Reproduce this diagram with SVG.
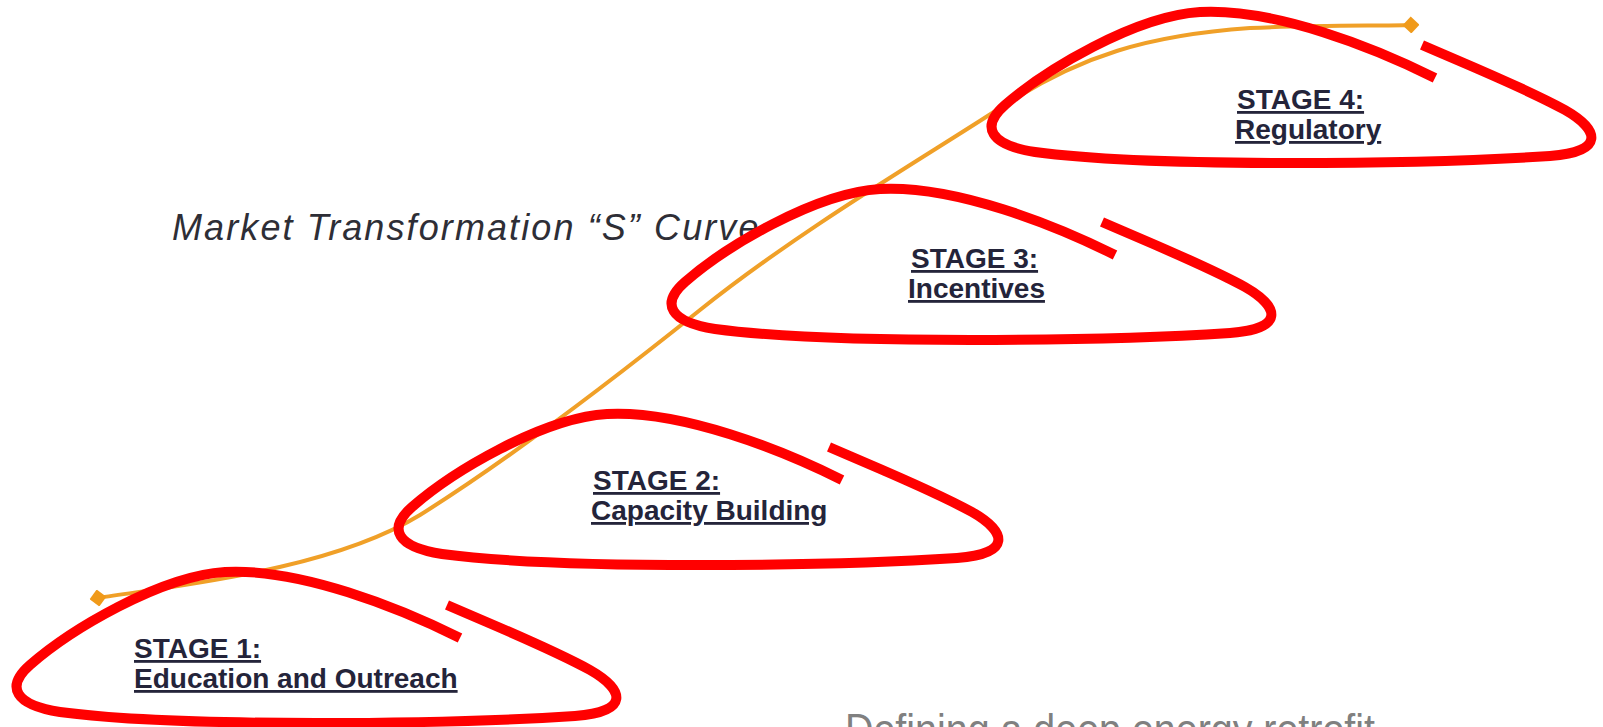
<svg xmlns="http://www.w3.org/2000/svg" xmlns:xlink="http://www.w3.org/1999/xlink" width="1603" height="727" viewBox="0 0 1603 727">
  <style>
    .title { font-family: "Liberation Sans", Arial, sans-serif; font-style: italic; font-size: 36px; letter-spacing: 2.1px; fill: #2e2e36; }
    .stage { font-family: "Liberation Sans", Arial, sans-serif; font-weight: bold; font-size: 28px; fill: #24243a; text-decoration: underline; }
    .loop { fill: none; stroke: #ff0000; stroke-width: 10; stroke-linecap: butt; stroke-linejoin: round; }
    .scurve { fill: none; stroke: #f0a028; stroke-width: 4; stroke-linecap: round; }
    .footer { font-family: "Liberation Sans", Arial, sans-serif; font-size: 44px; fill: #808080; }
  </style>
  <defs>
    <marker id="diamond" viewBox="0 0 12 12" refX="6" refY="6" markerWidth="17" markerHeight="17" markerUnits="userSpaceOnUse" orient="auto">
      <path d="M6,0 L12,6 L6,12 L0,6 Z" fill="#f09a1a"/>
    </marker>
    <path id="loopShape" d="M 460,638 C 400,608 300,568 225,572 C 160,576 70,630 30,665 C 5,687 15,705 60,712 C 180,728 450,724 575,716 C 630,712 625,690 590,670 C 550,648 500,628 447,605"/>
  </defs>
  <rect width="1603" height="727" fill="#ffffff"/>

  <g id="title">
    <text class="title" x="172" y="240">Market Transformation “S” Curve</text>
  </g>

  <g id="connectors">
    <path class="scurve" marker-start="url(#diamond)" marker-end="url(#diamond)" d="M 98,598 C 180,585 330,570 420,515 C 500,465 600,390 700,310 C 800,230 920,160 1000,108 C 1080,55 1150,35 1250,28 C 1320,25 1380,26 1411,25"/>
  </g>

  <g id="stage1">
    <use xlink:href="#loopShape" href="#loopShape" class="loop"/>
    <text class="stage" x="134" y="658">STAGE 1:</text>
    <text class="stage" x="134" y="688">Education and Outreach</text>
  </g>

  <g id="stage2">
    <use xlink:href="#loopShape" href="#loopShape" class="loop" transform="translate(382,-158)"/>
    <text class="stage" x="593" y="490">STAGE 2:</text>
    <text class="stage" x="591" y="520">Capacity Building</text>
  </g>

  <g id="stage3">
    <use xlink:href="#loopShape" href="#loopShape" class="loop" transform="translate(655,-383)"/>
    <text class="stage" x="911" y="268">STAGE 3:</text>
    <text class="stage" x="908" y="298">Incentives</text>
  </g>

  <g id="stage4">
    <use xlink:href="#loopShape" href="#loopShape" class="loop" transform="translate(975,-560)"/>
    <text class="stage" x="1237" y="109">STAGE 4:</text>
    <text class="stage" x="1235" y="139">Regulatory</text>
  </g>

  <g id="footer">
    <text class="footer" x="845" y="745" textLength="530" lengthAdjust="spacingAndGlyphs">Defining a deep energy retrofit</text>
  </g>
</svg>
